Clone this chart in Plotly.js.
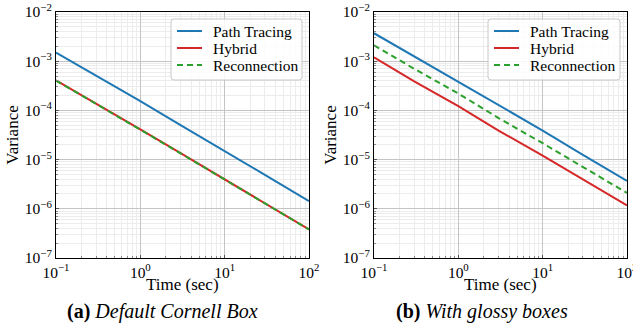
<!DOCTYPE html>
<html>
<head>
<meta charset="utf-8">
<script src="https://cdn.plot.ly/plotly-3.0.1.min.js"></script>
<style>html,body{margin:0;padding:0;background:#fff;}#chart{width:633px;height:327px;}</style>
</head>
<body>
<div id="chart"></div>
<script>
// Time (sec)
const timeA = [0.1, 0.3, 1, 3, 10, 30, 100];
const pathTracingA = [1.5e-3, 5.1e-4, 1.55e-4, 5.0e-5, 1.5e-5, 4.9e-6, 1.43e-6];
const hybridA = [4.1e-4, 1.38e-4, 4.1e-5, 1.35e-5, 4.0e-6, 1.3e-6, 3.8e-7];
const reconnectionA = [4.05e-4, 1.37e-4, 4.05e-5, 1.34e-5, 3.97e-6, 1.29e-6, 3.8e-7];

const timeB = [0.1, 0.3, 1, 3, 10, 30, 100];
const pathTracingB = [3.7e-3, 1.25e-3, 3.9e-4, 1.28e-4, 3.9e-5, 1.25e-5, 3.7e-6];
const hybridB = [1.2e-3, 3.9e-4, 1.22e-4, 3.9e-5, 1.2e-5, 3.9e-6, 1.17e-6];
const reconnectionB = [2.1e-3, 7.0e-4, 2.2e-4, 7.0e-5, 2.15e-5, 7.0e-6, 2.1e-6];

const seriesNames = ['Path Tracing', 'Hybrid', 'Reconnection'];
const xTickVals = [0.1, 1, 10, 100];
const xTickText = ['10<sup>−1</sup>', '10<sup>0</sup>', '10<sup>1</sup>', '10<sup>2</sup>'];
const yTickVals = [1e-7, 1e-6, 1e-5, 1e-4, 1e-3, 1e-2];
const yTickText = ['10<sup>−7</sup>', '10<sup>−6</sup>', '10<sup>−5</sup>', '10<sup>−4</sup>', '10<sup>−3</sup>', '10<sup>−2</sup>'];
const captions = ['<b>(a)</b> <i>Default Cornell Box</i>', '<b>(b)</b> <i>With glossy boxes</i>'];
const xTitle = 'Time (sec)';
const yTitle = 'Variance';

const colors = ['#1f77b4', '#d62728', '#2ca02c'];
const dashes = ['solid', 'solid', '6px,4px'];
const FONT = 'Liberation Serif, DejaVu Serif, serif';
const W = 633, H = 327;

function mk(x, y, i, xa, ya) {
  return {
    x: x, y: y, type: 'scatter', mode: 'lines', name: seriesNames[i],
    xaxis: xa, yaxis: ya, showlegend: false,
    line: {color: colors[i], width: 2, dash: dashes[i]}
  };
}

const data = [
  mk(timeA, pathTracingA, 0, 'x', 'y'),
  mk(timeA, hybridA, 1, 'x', 'y'),
  mk(timeA, reconnectionA, 2, 'x', 'y'),
  mk(timeB, pathTracingB, 0, 'x2', 'y2'),
  mk(timeB, hybridB, 1, 'x2', 'y2'),
  mk(timeB, reconnectionB, 2, 'x2', 'y2')
];

function common() {
  return {
    type: 'log', ticks: 'inside', ticklen: 3, tickcolor: '#555', tickwidth: 1, ticklabeloverflow: 'allow',
    tickfont: {family: FONT, size: 15.5, color: '#000'},
    showgrid: true, gridcolor: '#c4c4c4', gridwidth: 1,
    minor: {dtick: 'D1', showgrid: true, gridcolor: '#ececec', gridwidth: 1, ticks: 'inside', ticklen: 2, tickcolor: '#888'},
    showline: true, linecolor: '#000', linewidth: 1, mirror: true, zeroline: false
  };
}
function xax(dom, anchor) {
  return Object.assign(common(), {
    range: [-1, 2], domain: dom, anchor: anchor,
    tickvals: xTickVals, ticktext: xTickText
  });
}
function yax(anchor) {
  return Object.assign(common(), {
    range: [-7, -2], domain: [(H - 258) / H, (H - 12) / H], anchor: anchor,
    tickvals: yTickVals, ticktext: yTickText,
    title: {text: yTitle, font: {family: FONT, size: 17, color: '#000'}, standoff: 1}
  });
}

// Legend drawn in pixel space (paper coordinates), one per panel
const shapes = [];
const annotations = [];
function px(x) { return x / W; }
function py(y) { return (H - y) / H; }
function legend(left, right) {
  const top = 19, bottom = 80, r = 3;
  const path = `M ${px(left + r)},${py(top)} L ${px(right - r)},${py(top)} Q ${px(right)},${py(top)} ${px(right)},${py(top + r)} ` +
    `L ${px(right)},${py(bottom - r)} Q ${px(right)},${py(bottom)} ${px(right - r)},${py(bottom)} ` +
    `L ${px(left + r)},${py(bottom)} Q ${px(left)},${py(bottom)} ${px(left)},${py(bottom - r)} ` +
    `L ${px(left)},${py(top + r)} Q ${px(left)},${py(top)} ${px(left + r)},${py(top)} Z`;
  shapes.push({type: 'path', xref: 'paper', yref: 'paper', path: path,
    fillcolor: 'rgba(255,255,255,0.85)', line: {color: '#c8c8c8', width: 1}});
  seriesNames.forEach((n, i) => {
    const yy = 31 + 17 * i;
    shapes.push({type: 'line', xref: 'paper', yref: 'paper',
      x0: px(left + 6), x1: px(left + 31), y0: py(yy), y1: py(yy),
      line: {color: colors[i], width: 2, dash: dashes[i]}});
    annotations.push({text: n, xref: 'paper', yref: 'paper', x: px(left + 40), y: py(yy),
      xanchor: 'left', yanchor: 'middle', showarrow: false,
      font: {family: FONT, size: 15.5, color: '#000'}});
  });
}
legend(171, 302);
legend(488, 620);

[[56, 309], [374, 627]].forEach((d) => {
  annotations.push({text: xTitle, xref: 'paper', yref: 'paper', x: px((d[0] + d[1]) / 2), y: py(284.5),
    xanchor: 'center', yanchor: 'middle', showarrow: false, font: {family: FONT, size: 17, color: '#000'}});
});
annotations.push({text: captions[0], x: px(163), y: py(311), xref: 'paper', yref: 'paper', showarrow: false,
  xanchor: 'center', yanchor: 'middle', font: {family: FONT, size: 20, color: '#000'}});
annotations.push({text: captions[1], x: px(482), y: py(311), xref: 'paper', yref: 'paper', showarrow: false,
  xanchor: 'center', yanchor: 'middle', font: {family: FONT, size: 20, color: '#000'}});

const layout = {
  width: W, height: H,
  margin: {l: 0, r: 0, t: 0, b: 0},
  paper_bgcolor: '#fff', plot_bgcolor: '#fff',
  font: {family: FONT, color: '#000'},
  showlegend: false,
  xaxis: xax([56 / W, 309 / W], 'y'),
  yaxis: yax('x'),
  xaxis2: xax([374 / W, 627 / W], 'y2'),
  yaxis2: yax('x2'),
  shapes: shapes,
  annotations: annotations
};

Plotly.newPlot('chart', data, layout, {displayModeBar: false, staticPlot: true});
</script>
</body>
</html>
